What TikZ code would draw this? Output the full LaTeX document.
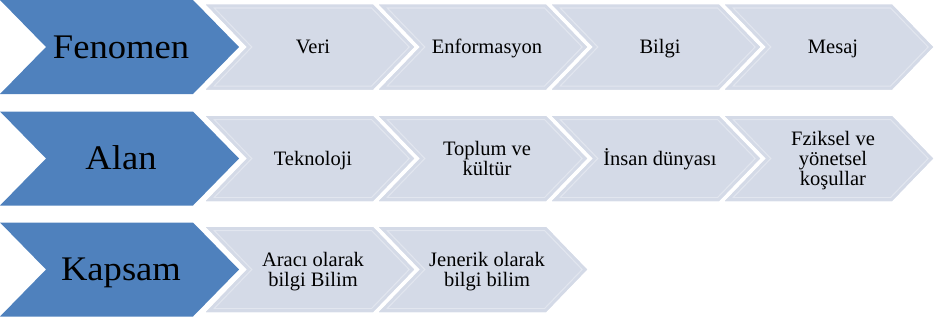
\documentclass[tikz,border=0pt]{standalone}
\usepackage{fontspec}
\setmainfont{Liberation Serif}
\newfontfamily\headfont{Liberation Serif}[FakeStretch=1.06]
\definecolor{chevblue}{HTML}{4F81BD}
\definecolor{chevlight}{HTML}{D4DAE7}
\definecolor{chevrim}{HTML}{E2E6EF}
% chevron outline: left x, centre y, width, half height, point depth
\newcommand{\chevpath}[5]{%
  (#1,{#2-#4}) -- ({#1+#3-#5},{#2-#4}) -- ({#1+#3},#2) --
  ({#1+#3-#5},{#2+#4}) -- (#1,{#2+#4}) -- ({#1+#5},#2) -- cycle}
% dark heading chevron
\newcommand{\headchev}[1]{\fill[chevblue] \chevpath{0}{#1}{239}{47}{46};}
% light step chevron with a faint inner rim
\newcommand{\stepchev}[2]{%
  \fill[chevlight] \chevpath{#1}{#2}{208}{42.5}{41};
  \begin{scope}
    \clip \chevpath{#1}{#2}{208}{42.5}{41};
    \draw[chevrim, line width=8, line join=miter] \chevpath{#1}{#2}{208}{42.5}{41};
    \draw[chevlight, line width=5.6, line join=miter] \chevpath{#1}{#2}{208}{42.5}{41};
  \end{scope}}
\begin{document}
\begin{tikzpicture}[x=1pt, y=-1pt,
  lab/.style={font=\fontsize{20.5}{20}\selectfont, align=center, inner sep=0pt, text depth=0pt},
  one/.style={lab, text height=13.6pt},
  two/.style={lab, text height=33.6pt},
  three/.style={lab, text height=53.6pt},
  big/.style={font=\headfont\fontsize{34.5}{40}\selectfont, inner sep=0pt, text height=22.8pt, text depth=0pt}]
\useasboundingbox (0,0) rectangle (934,322);

% row 1
\headchev{47}
\foreach \l in {206,379,552,725} {\stepchev{\l}{47}}
\node[big] (fenomen) at (121,47) {Fenomen};
\node[one] (veri) at (313,47) {Veri};
\node[one] (enformasyon) at (487,47) {Enformasyon};
\node[one] (bilgi) at (660,47) {Bilgi};
\node[one] (mesaj) at (833,47) {Mesaj};

% row 2
\headchev{158.5}
\foreach \l in {206,379,552,725} {\stepchev{\l}{158.5}}
\node[big] (alan) at (121,158.5) {Alan};
\node[one] (teknoloji) at (313,158.5) {Teknoloji};
\node[two] (toplum) at (487,158.5) {Toplum ve\\kültür};
\node[one] (insan) at (660,158.5) {İnsan dünyası};
\node[three] (fiziksel) at (833,158.5) {Fziksel ve\\yönetsel\\koşullar};

% row 3
\headchev{269.5}
\foreach \l in {206,379} {\stepchev{\l}{269.5}}
\node[big] (kapsam) at (121,269.5) {Kapsam};
\node[two] (araci) at (313,269.5) {Aracı olarak\\bilgi Bilim};
\node[two] (jenerik) at (487,269.5) {Jenerik olarak\\bilgi bilim};
\end{tikzpicture}
\end{document}
